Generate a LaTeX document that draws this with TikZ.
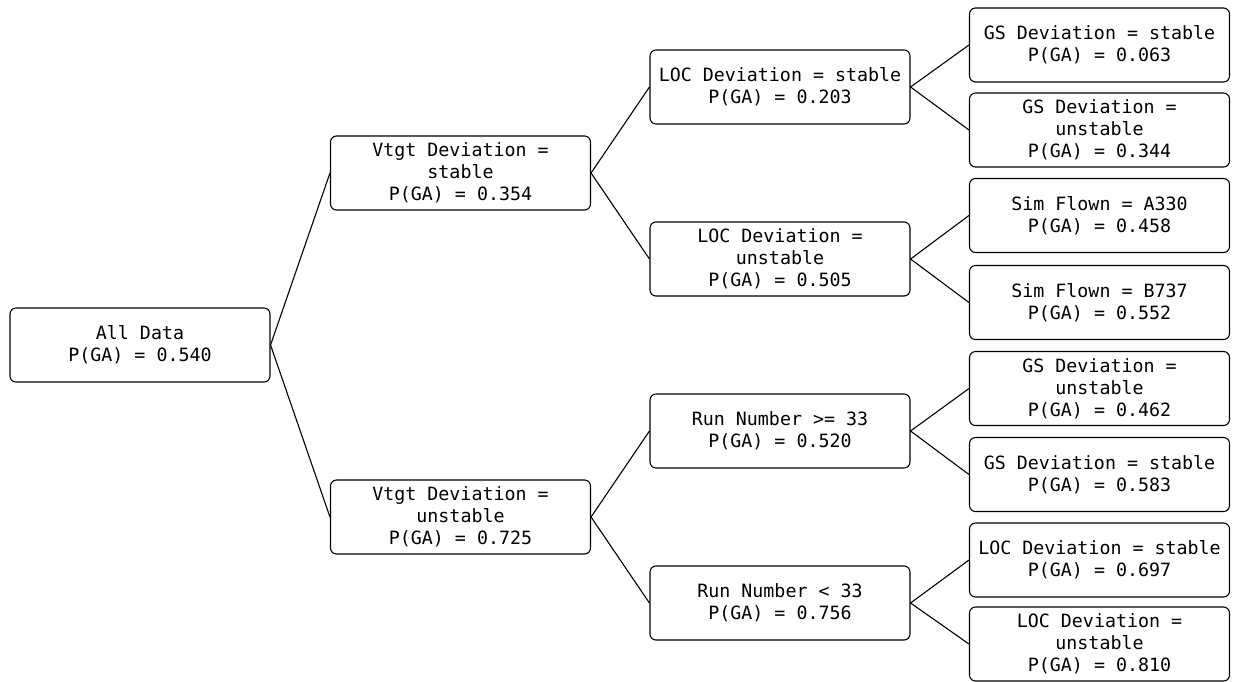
\documentclass[tikz,border=0pt]{standalone}
\usepackage{fontspec}
\setmonofont{DejaVu Sans Mono}
\begin{document}
\begin{tikzpicture}[x=1pt,y=-1pt,
  box/.style={draw, rounded corners=6pt, line width=1.1pt, minimum width=260pt, minimum height=74pt,
    align=center, inner sep=0pt, font=\ttfamily\fontsize{18.3}{22}\selectfont},
  edge/.style={line width=1.1pt}]
\useasboundingbox (0,0) rectangle (1233,681);
\node[box] (root) at (140,345) {All Data\\P(GA) = 0.540};
\node[box] (v1) at (460.5,173) {Vtgt Deviation =\\stable\\P(GA) = 0.354};
\node[box] (v2) at (460.5,517) {Vtgt Deviation =\\unstable\\P(GA) = 0.725};
\node[box] (l1) at (780,87) {LOC Deviation = stable\\P(GA) = 0.203};
\node[box] (l2) at (780,259) {LOC Deviation =\\unstable\\P(GA) = 0.505};
\node[box] (l3) at (780,431) {Run Number >= 33\\P(GA) = 0.520};
\node[box] (l4) at (780,603) {Run Number < 33\\P(GA) = 0.756};
\node[box] (f1) at (1099.5,45) {GS Deviation = stable\\P(GA) = 0.063};
\node[box] (f2) at (1099.5,130) {GS Deviation =\\unstable\\P(GA) = 0.344};
\node[box] (f3) at (1099.5,215.5) {Sim Flown = A330\\P(GA) = 0.458};
\node[box] (f4) at (1099.5,302.5) {Sim Flown = B737\\P(GA) = 0.552};
\node[box] (f5) at (1099.5,388.5) {GS Deviation =\\unstable\\P(GA) = 0.462};
\node[box] (f6) at (1099.5,474.5) {GS Deviation = stable\\P(GA) = 0.583};
\node[box] (f7) at (1099.5,560) {LOC Deviation = stable\\P(GA) = 0.697};
\node[box] (f8) at (1099.5,644) {LOC Deviation =\\unstable\\P(GA) = 0.810};
\draw[edge] (root.east) -- (v1.west);
\draw[edge] (root.east) -- (v2.west);
\draw[edge] (v1.east) -- (l1.west);
\draw[edge] (v1.east) -- (l2.west);
\draw[edge] (v2.east) -- (l3.west);
\draw[edge] (v2.east) -- (l4.west);
\draw[edge] (l1.east) -- (f1.west);
\draw[edge] (l1.east) -- (f2.west);
\draw[edge] (l2.east) -- (f3.west);
\draw[edge] (l2.east) -- (f4.west);
\draw[edge] (l3.east) -- (f5.west);
\draw[edge] (l3.east) -- (f6.west);
\draw[edge] (l4.east) -- (f7.west);
\draw[edge] (l4.east) -- (f8.west);
\end{tikzpicture}
\end{document}
